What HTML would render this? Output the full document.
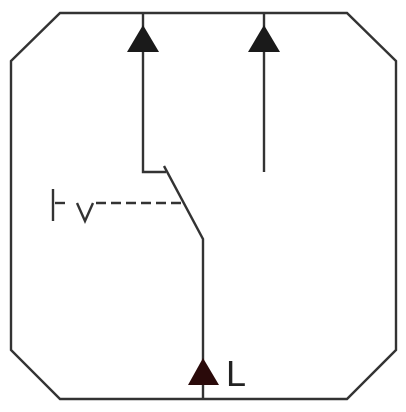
<!DOCTYPE html>
<html><head><meta charset="utf-8"><style>
html,body{margin:0;padding:0;background:#fff;}
svg{display:block;}
</style></head><body>
<svg width="406" height="412" viewBox="0 0 406 412" xmlns="http://www.w3.org/2000/svg">
<g stroke="#333" stroke-width="2.4" fill="none">
<polygon points="60,13 347,13 396,61 396,350 347,399 60,399 11,350 11,61"/>
<polyline points="143,13 143,172 166,172"/>
<line x1="264" y1="13" x2="264" y2="172"/>
<polyline points="164,166 203,239 203,399"/>
<line x1="96" y1="203" x2="184" y2="203" stroke-dasharray="10,5"/>
<line x1="53" y1="189" x2="53" y2="221"/>
<line x1="55" y1="203" x2="65" y2="203"/>
<polyline points="77,203 85,221 93,203"/>
</g>
<polygon points="143,25 127,52 159,52" fill="#1a1a1a"/>
<polygon points="264,25 248,52 280,52" fill="#1a1a1a"/>
<polygon points="203,358 188,385 219,385" fill="#2a0a0a"/>
<text x="226" y="386" font-family="Liberation Sans, sans-serif" font-size="36" fill="#222">L</text>
</svg>
</body></html>
